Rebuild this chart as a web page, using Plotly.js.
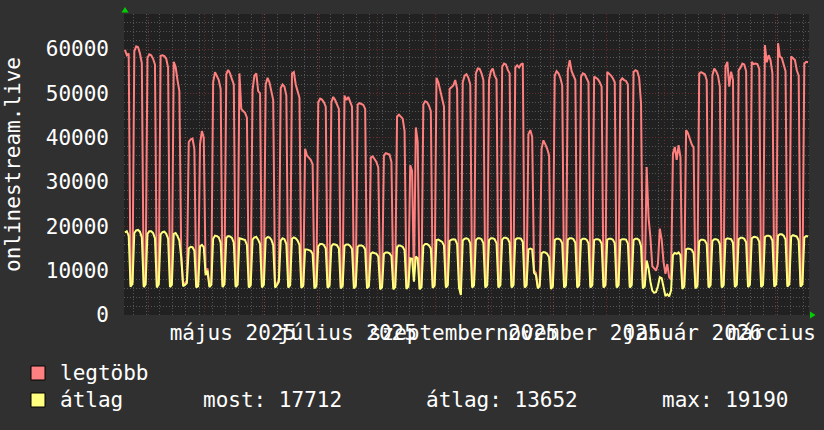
<!DOCTYPE html>
<html>
<head>
<meta charset="utf-8">
<script src="https://cdn.plot.ly/plotly-3.0.1.min.js"></script>
<style>
  html, body { margin: 0; padding: 0; background: #303030; }
  #chart { width: 824px; height: 430px; }
</style>
</head>
<body>
<div id="chart"></div>
<script>
// ---- data (one value per day, 2025-03-19 .. 2026-03-18) ----
const startDay = '2025-03-19';
const dayCount = 365;

// legtöbb (maximum) — rows: Mon..Sun (first row starts on Wednesday)
const maxValues = [
  59800, 58600, 59000, 6800, 7400,
  59500, 60600, 60400, 59000, 56800, 6700, 7300,
  58000, 58800, 58600, 57800, 56500, 6600, 7300,
  58500, 58600, 58400, 57800, 55800, 6700, 7200,
  57100, 56000, 53000, 50500, 13500, 6900, 7200,
  7800, 39000, 39600, 39800, 37500, 6600, 6900,
  38500, 41500, 40000, 9500, 10500, 6700, 7200,
  52500, 54800, 53800, 53000, 51000, 6700, 7300,
  54300, 55300, 54500, 53200, 52000, 6700, 7200,
  54500, 46500, 46000, 45600, 44500, 6600, 7100,
  50800, 54000, 54500, 50500, 50000, 6600, 7200,
  52000, 53500, 52500, 50500, 48500, 6600, 7100,
  8000, 51200, 52000, 51500, 49500, 6600, 7100,
  54500, 54800, 52000, 50500, 49000, 6500, 7000,
  37500, 36000, 35500, 35000, 34000, 6400, 6900,
  48000, 48800, 48600, 48000, 47000, 6500, 7000,
  48000, 49200, 48500, 47500, 46500, 6400, 6900,
  49500, 48500, 49200, 48000, 47000, 6400, 6900,
  47500, 47800, 47600, 47400, 46500, 6400, 6900,
  35500, 35800, 35200, 34500, 33300, 6200, 6700,
  36000, 36500, 36400, 36200, 34500, 6200, 6700,
  44800, 45200, 44800, 44300, 41500, 6300, 6800,
  33800, 32500, 8000, 42300, 39000, 6200, 6700,
  47500, 48200, 48000, 47200, 46000, 6500, 7000,
  53500, 52500, 50800, 48500, 47000, 6600, 7100,
  51000, 51500, 51800, 53000, 51000, 6600, 4900,
  52500, 54000, 54300, 53500, 52000, 6600, 7100,
  54500, 55600, 55500, 54500, 53000, 6600, 7100,
  53000, 55000, 55600, 54000, 53200, 6600, 7100,
  56000, 56700, 56500, 55300, 54500, 6600, 7100,
  55800, 56300, 55800, 56500, 56800, 6600, 7100,
  40800, 41700, 40200, 10000, 9500, 6400, 6900,
  37500, 39400, 38500, 37500, 36000, 6300, 6800,
  54000, 55000, 54500, 53500, 51800, 6600, 7100,
  55200, 57500, 55000, 54000, 53000, 6600, 7100,
  53700, 54500, 54300, 53500, 52500, 6600, 7100,
  53800, 53500, 53200, 52500, 51500, 6600, 7100,
  54800, 54500, 54000, 53400, 52500, 6600, 7100,
  52800, 53400, 53000, 52800, 52000, 6600, 7100,
  54800, 55200, 55000, 53500, 47700, 6400, 6900,
  33400, 22000, 17500, 11000, 10500, 10000, 11500,
  19500, 17000, 12000, 9300, 11500, 8500, 8000,
  36400, 37900, 35000, 38300, 35600, 6400, 6900,
  41700, 41000, 39500, 38500, 37800, 6400, 6900,
  54500, 54800, 54600, 54300, 53000, 6600, 7100,
  54000, 55600, 55000, 54000, 51500, 6600, 7100,
  56000, 57100, 51500, 54900, 53000, 6700, 7200,
  55200, 55800, 56700, 56500, 55000, 6700, 7200,
  57100, 56600, 56700, 56600, 55500, 6700, 7200,
  60900, 57000, 58600, 57500, 54500, 6800, 7300,
  61300, 58300, 58000, 56700, 55000, 6800, 7300,
  58300, 57800, 57500, 55200, 54000, 6800, 7300,
  56700, 57100, 57000
];

// átlag (average)
const avgValues = [
  18600, 18900, 17900, 6400, 7000,
  18500, 19100, 19190, 18800, 17500, 6300, 6900,
  18300, 18900, 18900, 18500, 17300, 6200, 6900,
  18200, 18700, 18800, 18300, 17200, 6300, 6800,
  18300, 18500, 17800, 16800, 13000, 6500, 6800,
  7200, 15000, 15400, 15300, 14500, 6200, 6500,
  15500, 15800, 15300, 9000, 10000, 6300, 6800,
  17200, 17900, 17800, 17500, 16300, 6300, 6900,
  17400, 17800, 17700, 17400, 16300, 6300, 6800,
  17300, 17200, 17100, 16900, 15800, 6200, 6700,
  17000, 17500, 17600, 17000, 16000, 6200, 6800,
  17200, 17600, 17500, 17000, 15800, 6200, 6700,
  7500, 16800, 17300, 17100, 16000, 6200, 6700,
  17200, 17500, 17300, 16800, 15800, 6100, 6600,
  14800, 14800, 14700, 14500, 13800, 6000, 6500,
  15500, 16000, 16000, 15800, 15000, 6100, 6600,
  15500, 16000, 15900, 15700, 15000, 6000, 6500,
  15600, 15900, 15900, 15600, 14900, 6000, 6500,
  15400, 15700, 15700, 15500, 14800, 6000, 6500,
  13800, 14100, 14000, 13800, 13200, 5800, 6300,
  13800, 14100, 14100, 13900, 13300, 5800, 6300,
  15300, 15700, 15600, 15400, 14600, 5900, 6400,
  12800, 12700, 7500, 13200, 12800, 5800, 6300,
  15600, 16000, 16000, 15700, 15000, 6100, 6600,
  16900, 17000, 16800, 16500, 15700, 6200, 6700,
  16700, 17000, 17100, 17000, 16000, 6200, 4500,
  16800, 17200, 17300, 17100, 16200, 6200, 6700,
  16900, 17300, 17300, 17100, 16200, 6200, 6700,
  16900, 17300, 17300, 17100, 16200, 6200, 6700,
  17000, 17400, 17400, 17200, 16300, 6200, 6700,
  17000, 17300, 17300, 17200, 16500, 6200, 6700,
  14800, 15000, 14800, 9500, 9000, 6000, 6500,
  13900, 14200, 14100, 13800, 13000, 5900, 6400,
  16900, 17200, 17200, 17000, 16200, 6200, 6700,
  17000, 17300, 17300, 17100, 16300, 6200, 6700,
  16900, 17200, 17200, 17000, 16200, 6200, 6700,
  16900, 17100, 17100, 16900, 16100, 6200, 6700,
  17000, 17200, 17200, 17000, 16200, 6200, 6700,
  16900, 17100, 17100, 17000, 16100, 6200, 6700,
  16900, 17200, 17200, 16900, 15500, 6000, 6500,
  12300, 10500, 7500, 5500, 5000, 5200, 6500,
  8500, 8300, 6000, 4300, 4700, 4200, 5500,
  13500, 14000, 13800, 14100, 13500, 5900, 6400,
  14800, 15000, 14900, 14700, 14000, 6000, 6500,
  16600, 17000, 17000, 16800, 16000, 6200, 6700,
  16700, 17100, 17100, 16900, 16000, 6200, 6700,
  17000, 17300, 17200, 17100, 16300, 6300, 6800,
  17100, 17400, 17400, 17200, 16400, 6300, 6800,
  17300, 17600, 17600, 17400, 16500, 6300, 6800,
  17600, 17900, 17900, 17700, 16800, 6400, 6900,
  17900, 18200, 18200, 17900, 17000, 6400, 6900,
  17700, 18000, 17900, 17700, 16800, 6400, 6900,
  17500, 17800, 17712
];

const monthLabelDates = ['2025-05-16', '2025-07-16', '2025-09-16', '2025-11-16', '2026-01-16', '2026-03-16'];
const monthLabelTexts = ['május 2025', 'július 2025', 'szeptember 2025', 'november 2025', 'január 2026', 'március 2026'];
const seriesNames = ['legtöbb', 'átlag'];
const statLabels = ['most', 'átlag', 'max'];
const statValues = [17712, 13652, 19190];
const axisTitle = 'onlinestream.live';

// ---- build x (day midpoints) ----
const t0 = Date.parse(startDay + 'T00:00:00Z');
const days = [];
for (let i = 0; i < dayCount; i++) {
  days.push(new Date(t0 + i * 86400000 + 12 * 3600000).toISOString().slice(0, 19).replace('T', ' '));
}
const xRange = ['2025-03-19 00:00:00', '2026-03-19 00:00:00'];

// ---- geometry helpers (pixel -> paper) ----
const W = 824, H = 430;
const L = 124, R = 809, T = 14, B = 315;
const px = x => (x - L) / (R - L);
const py = y => (B - y) / (B - T);

const FONT = 'DejaVu Sans Mono';
const FS = 21;
const RED = '#ff7f7f', YEL = '#ffff7f';

const traces = [
  { x: days, y: maxValues, type: 'scatter', mode: 'lines', name: seriesNames[0],
    line: { color: RED, width: 2 }, xaxis: 'x', yaxis: 'y', hoverinfo: 'skip' },
  { x: days, y: avgValues, type: 'scatter', mode: 'lines', name: seriesNames[1],
    line: { color: YEL, width: 2 }, xaxis: 'x2', yaxis: 'y', hoverinfo: 'skip' }
];

const gridMinor = '#555555';
const gridMajor = '#6a2c2c';

const annotations = [
  { text: seriesNames[0], x: px(58), y: py(373), xanchor: 'left', yanchor: 'middle' },
  { text: seriesNames[1], x: px(58), y: py(400), xanchor: 'left', yanchor: 'middle' },
  { text: statLabels[0] + ': ' + statValues[0], x: px(201), y: py(400), xanchor: 'left', yanchor: 'middle' },
  { text: statLabels[1] + ': ' + statValues[1], x: px(424), y: py(400), xanchor: 'left', yanchor: 'middle' },
  { text: statLabels[2] + ': ' + statValues[2], x: px(660), y: py(400), xanchor: 'left', yanchor: 'middle' }
].map(a => Object.assign({ xref: 'paper', yref: 'paper', showarrow: false,
  font: { family: FONT, size: FS, color: '#ffffff' } }, a));

const shapes = [
  { type: 'rect', xref: 'paper', yref: 'paper', x0: px(31), x1: px(45), y0: py(380), y1: py(366),
    fillcolor: '#ff8080', line: { color: '#000000', width: 1 } },
  { type: 'rect', xref: 'paper', yref: 'paper', x0: px(31), x1: px(45), y0: py(407), y1: py(393),
    fillcolor: '#ffff80', line: { color: '#000000', width: 1 } },
  { type: 'path', xref: 'paper', yref: 'paper',
    path: `M ${px(121.5)} ${py(12.5)} L ${px(128.5)} ${py(12.5)} L ${px(125)} ${py(7)} Z`,
    fillcolor: '#00d000', line: { width: 0 } },
  { type: 'path', xref: 'paper', yref: 'paper',
    path: `M ${px(810)} ${py(311.5)} L ${px(810)} ${py(318.5)} L ${px(815.5)} ${py(315)} Z`,
    fillcolor: '#00d000', line: { width: 0 } }
];

const layout = {
  width: W, height: H,
  margin: { l: L, r: W - R, t: T, b: H - B, pad: 0 },
  paper_bgcolor: '#303030',
  plot_bgcolor: '#212121',
  showlegend: false,
  font: { family: FONT, size: FS, color: '#ffffff' },
  xaxis: {
    type: 'date', range: xRange, fixedrange: true,
    tick0: '2025-04-01', dtick: 'M1',
    showticklabels: false, ticks: '',
    showgrid: true, gridcolor: gridMajor, griddash: '1px,2px', gridwidth: 1,
    minor: { tick0: '2025-03-24', dtick: 7 * 86400000, showgrid: true,
             gridcolor: gridMinor, griddash: '1px,2px', gridwidth: 1, ticks: '' },
    zeroline: false, showline: false
  },
  xaxis2: {
    type: 'date', range: xRange, overlaying: 'x', anchor: 'y', side: 'bottom', fixedrange: true,
    tickmode: 'array', tickvals: monthLabelDates, ticktext: monthLabelTexts,
    tickangle: 0, ticks: '', ticklabeloverflow: 'allow', ticklabelstandoff: 3,
    showgrid: false, zeroline: false, showline: false,
    tickfont: { family: FONT, size: FS, color: '#ffffff' }
  },
  yaxis: {
    range: [0, 67900], fixedrange: true,
    tick0: 0, dtick: 10000, tickformat: 'd',
    ticks: '', ticklabelstandoff: 14,
    showgrid: true, gridcolor: gridMajor, griddash: '1px,2px', gridwidth: 1,
    minor: { dtick: 2000, showgrid: true, gridcolor: gridMinor, griddash: '1px,2px', gridwidth: 1, ticks: '' },
    zeroline: false, showline: false,
    tickfont: { family: FONT, size: FS, color: '#ffffff' },
    title: { text: axisTitle, standoff: 19, font: { family: FONT, size: FS, color: '#ffffff' } },
    automargin: false
  },
  annotations: annotations,
  shapes: shapes
};

Plotly.newPlot('chart', traces, layout, { staticPlot: true, displayModeBar: false });
</script>
</body>
</html>
